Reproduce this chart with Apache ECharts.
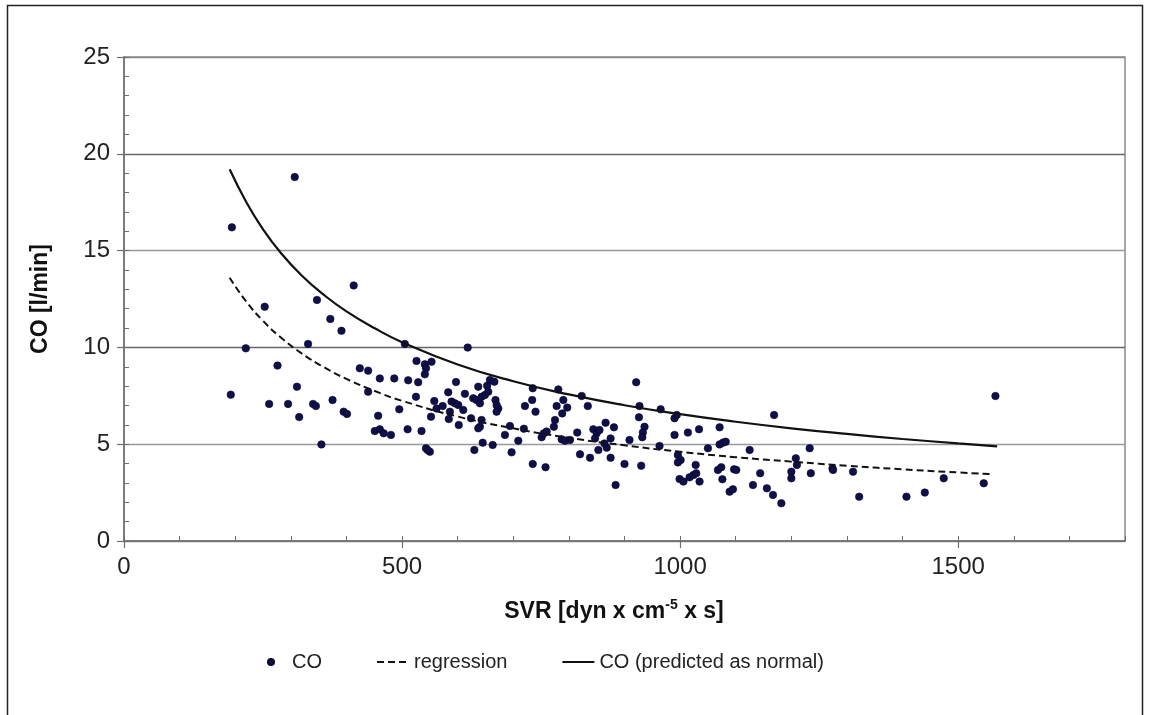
<!DOCTYPE html>
<html><head><meta charset="utf-8">
<script src="https://cdn.jsdelivr.net/npm/echarts@6/dist/echarts.min.js"></script>
<style>html,body{margin:0;padding:0;background:#fff}#c{width:1149px;height:715px}</style>
</head><body><div id="c"></div>
<script>
// Scatter: measured SVR (x) and CO (y)
const svr = [194,307,413,347,253,371,391,331,219,505,276,424,439,460,486,511,311,439,192,261,295,340,345,375,495,315,395,401,457,510,451,460,467,480,355,
  618,526,541,543,541,553,529,525,535,543,550,546,552,558,562,573,583,597,589,595,601,586,584,602,610,613,624,630,628,634,640,637,643,649,653,655,658,666,668,670,673,670,643,640,637,645,663,
  685,697,694,709,719,721,734,735,740,735,758,751,755,760,773,775,778,781,790,788,797,787,793,802,820,838,815,823,834,844,850,
  921,927,926,936,933,932,930,909,900,884,875,866,881,853,868,875,864,847,855,
  965,963,990,994,990,1014,1034,996,1001,996,999,1006,1017,1024,1028,1029,1035,1050,1071,1071,1077,1082,1068,1074,1076,1097,1101,1089,1095,
  1125,1144,1131,1156,1167,1169,1233,1208,1210,1200,1200,1235,1274,1275,1311,1322,1407,1440,1474,1182,1567,1546];
const co = [16.2,18.8,13.2,12.45,12.1,11.47,10.86,10.18,9.95,10.18,9.06,8.92,8.8,8.4,8.4,8.3,7.97,7.71,7.56,7.08,7.08,7.08,6.97,7.28,6.8,6.4,6.68,6.56,6.47,5.77,5.68,5.77,5.56,5.48,4.99,
  9.99,9.3,9.13,8.92,8.61,9.26,8.2,7.45,5.68,4.79,4.61,4.7,6.42,7.23,6.85,6.97,7.68,8.21,7.2,7.11,7.03,6.68,6.3,5.99,6.77,7.6,6.34,4.7,7.37,7.28,7.11,7.97,7.45,7.54,8.02,7.71,8.32,8.23,7.28,7.02,6.85,6.68,6.25,5.9,5.82,5.08,4.96,
  5.48,4.58,5.94,5.18,5.8,6.97,7.28,7.89,6.68,3.98,3.81,5.36,5.56,5.65,5.9,6.25,6.97,7.83,7.28,6.59,6.89,5.25,5.18,5.22,4.48,4.3,5.6,7.49,6.97,5.77,5.56,
  8.2,6.97,6.39,5.9,5.61,5.36,3.89,5.22,3.98,2.89,4.3,6.11,5.87,4.7,4.82,5.3,5.04,5.3,5.73,
  6.8,4.91,6.34,6.51,5.48,5.6,5.77,4.44,4.18,4.06,3.2,3.07,3.29,3.41,3.93,3.5,3.07,4.79,5.87,4.99,5.08,5.13,3.67,3.81,3.19,3.7,3.67,2.55,2.67,
  4.7,3.5,2.89,2.72,2.38,6.51,4.79,4.27,3.93,3.58,3.24,3.5,3.75,3.67,3.58,2.29,2.29,2.5,3.24,1.95,7.49,2.98];

// Curves
const curveSvr = [190,220,250,280,320,360,400,450,500,600,700,800,900,1000,1100,1200,1300,1400,1500,1570];
const predictedCo = [19.2,17.5,16.1,14.95,13.7,12.7,11.86,11.0,10.27,9.12,8.25,7.57,7.01,6.55,6.16,5.82,5.53,5.27,5.04,4.89];
const regressionSvr = [190,220,250,280,320,360,400,450,500,600,700,800,900,1000,1100,1200,1300,1400,1500,1560];
const regressionCo = [13.6,12.36,11.37,10.56,9.68,8.97,8.37,7.76,7.24,6.43,5.82,5.33,4.94,4.61,4.33,4.10,3.89,3.70,3.54,3.45];

// Tick labels
const xTicks = [0,500,1000,1500];
const xMinorTicks = [0,100,200,300,400,500,600,700,800,900,1000,1100,1200,1300,1400,1500,1600,1700,1800];
const yTicks = [0,5,10,15,20,25];
const yMinorTicks = [0,1,2,3,4,5,6,7,8,9,10,11,12,13,14,15,16,17,18,19,20,21,22,23,24,25];

const FONT = '"Liberation Sans", Arial, sans-serif';
const pts = svr.map((x,i)=>[x,co[i]]);
const toPairs = (xs,ys)=>xs.map((x,i)=>[x,ys[i]]);

const chart = echarts.init(document.getElementById('c'), null, {renderer:'canvas'});
chart.setOption({
  animation:false,
  backgroundColor:'#fff',
  textStyle:{fontFamily:FONT},
  grid:{left:124,right:24,top:57,bottom:174,show:true,borderColor:'#8a8a8a',borderWidth:1.5,backgroundColor:'transparent'},
  xAxis:[{
    type:'value',min:0,max:1800,
    axisLine:{show:true,onZero:false,lineStyle:{color:'#6e6e6e',width:1.5}},
    axisTick:{show:true,customValues:xTicks,inside:false,length:7,lineStyle:{color:'#6e6e6e',width:1.2}},
    axisLabel:{customValues:xTicks,fontSize:24,color:'#222',margin:14,fontFamily:FONT,formatter:v=>String(v)},
    splitLine:{show:false}
  },{
    type:'value',min:0,max:1800,position:'bottom',
    axisLine:{show:false},
    axisTick:{show:true,customValues:xMinorTicks,inside:true,length:5,lineStyle:{color:'#6e6e6e',width:1}},
    axisLabel:{show:false},splitLine:{show:false}
  }],
  yAxis:[{
    type:'value',min:0,max:25,interval:5,
    axisLine:{show:true,onZero:false,lineStyle:{color:'#6e6e6e',width:1.5}},
    axisTick:{show:true,customValues:yTicks,inside:false,length:7,lineStyle:{color:'#6e6e6e',width:1.2}},
    axisLabel:{customValues:yTicks,fontSize:24,color:'#222',margin:14,fontFamily:FONT},
    splitLine:{show:true,lineStyle:{color:['#8a8a8a','#999','#666','#999','#666','#8a8a8a'],width:1.4}},
    name:'CO [l/min]',nameLocation:'middle',nameGap:72,nameRotate:90,
    nameTextStyle:{fontSize:23,fontWeight:'bold',color:'#111',fontFamily:FONT}
  },{
    type:'value',min:0,max:25,position:'left',
    axisLine:{show:false},
    axisTick:{show:true,customValues:yMinorTicks,inside:true,length:5,lineStyle:{color:'#6e6e6e',width:1}},
    axisLabel:{show:false},splitLine:{show:false}
  }],
  legend:{
    top:647,left:262,itemWidth:32,itemHeight:6,itemGap:54,
    textStyle:{fontSize:20,color:'#222',fontFamily:FONT},
    data:[{name:'CO',icon:'circle'},
          {name:'regression',itemStyle:{opacity:0}},
          {name:'CO (predicted as normal)',itemStyle:{opacity:0}}]
  },
  graphic:[
    {type:'rect',silent:true,shape:{x:7.5,y:5.5,width:1135,height:730},style:{fill:'none',stroke:'#222',lineWidth:1.5}},
    {type:'text',silent:true,x:614,y:612,style:{
      text:'{a|SVR [dyn x cm}{s|-5}{a| x s]}',align:'center',verticalAlign:'middle',
      rich:{a:{fontSize:23,fontWeight:'bold',fill:'#111',fontFamily:FONT,lineHeight:28},
            s:{fontSize:14,fontWeight:'bold',fill:'#111',fontFamily:FONT,verticalAlign:'top',lineHeight:28,padding:[0,0,10,0]}}
    }}
  ],
  series:[
    {name:'CO',type:'scatter',data:pts,symbol:'circle',symbolSize:7.5,
     itemStyle:{color:'#0f0f4a',opacity:1,borderColor:'#06062a',borderWidth:0.6},z:3},
    {name:'regression',type:'line',data:toPairs(regressionSvr,regressionCo),smooth:true,symbol:'none',showSymbol:false,
     lineStyle:{color:'#111',width:2,type:[7,4]},itemStyle:{color:'#111'},z:4},
    {name:'CO (predicted as normal)',type:'line',data:toPairs(curveSvr,predictedCo),smooth:true,symbol:'none',showSymbol:false,
     lineStyle:{color:'#111',width:2.2},itemStyle:{color:'#111'},z:4}
  ]
});
</script></body></html>
